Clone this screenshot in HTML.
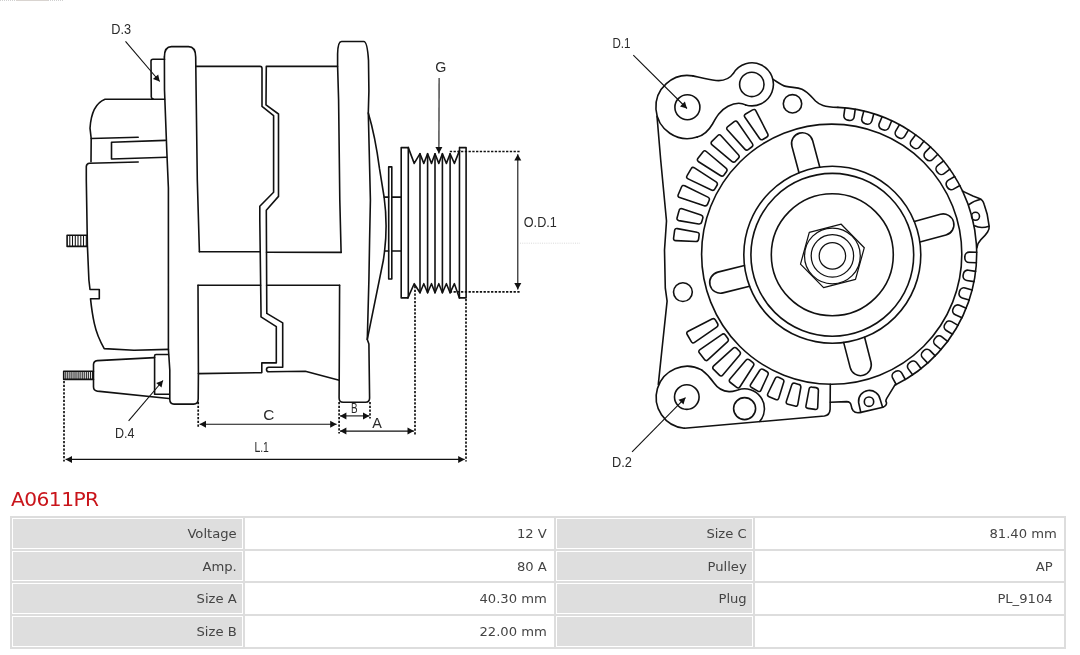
<!DOCTYPE html>
<html lang="en"><head><meta charset="utf-8"><title>A0611PR</title>
<style>
html,body{margin:0;padding:0;background:#fff;}
body{width:1080px;height:655px;position:relative;overflow:hidden;font-family:"DejaVu Sans","Liberation Sans",sans-serif;}
svg{position:absolute;left:0;top:0;}
svg,h1,table{will-change:transform;}
.ln{fill:none;stroke:#111;stroke-width:1.6;stroke-linejoin:round;stroke-linecap:round;}
.thin{fill:none;stroke:#111;stroke-width:1.05;}
.dl{fill:none;stroke:#111;stroke-width:1.1;}
.dot{fill:none;stroke:#111;stroke-width:1.7;stroke-dasharray:2.3 1.45;}
.ah{fill:#111;stroke:none;}
svg text{font-family:"Liberation Sans",sans-serif;font-size:14.3px;fill:#2a2a2a;}
h1{position:absolute;left:11px;top:487px;margin:0;font-size:20.2px;letter-spacing:-0.55px;line-height:24px;font-weight:normal;color:#c9151b;}
table{position:absolute;left:10px;top:516px;width:1056px;border-collapse:separate;border-spacing:0;border:1px solid #ddd;table-layout:fixed;font-size:13.15px;color:#444;}
td{border:1px solid #ddd;height:33px;padding:0 7.2px 0 0;text-align:right;vertical-align:middle;box-sizing:border-box;}
tr:nth-child(2) td{height:32px;}
td.k{padding-right:6.3px;background:#dedede;box-shadow:inset 0 0 0 1px #fff;}
</style></head><body>
<svg width="1080" height="480" viewBox="0 0 1080 480">
<g class="ln">
<path d="M164.6,59.2 L153,59.2 Q151,59.2 151,61.2 L151.3,97 Q151.4,98.6 153,98.9"/>
<path d="M164.4,57 Q164.4,46.6 171.5,46.6 L188.5,46.6 Q195.6,46.6 195.7,57 L196.1,90 L197.3,180 L199.4,251.8"/>
<path d="M164.4,57 L164.5,90 L166.8,151 L168.4,188 L168.4,270 L168.4,349 L169.8,370 L169.8,399.6 Q169.8,404.1 174,404.1 L193.6,404.1 Q198.1,404.1 198.2,399 L198.4,373.6 L198,285.3"/>
<path d="M195.9,66.4 L260,66.4 Q262,66.4 262,68.6 L262,106.4 L273.6,115.6 L273.6,192.3 L259.8,206.3 L259.8,220 L261,311.6 L261,316.8 L276.3,326.7 L276.3,362.9 L261.8,362.9 L261.8,372.6 L198.4,373.6"/>
<path d="M337.5,66.4 L266.3,66.4 L266,104.9 L278.5,114 L278.5,196.4 L266.3,210.2 L266.8,313.4 L282.7,322.9 L282.7,367.2 L268.8,367.2 A2.3,2.3 0 0 0 268.8,371.8 L305.3,371.3 L339.2,380.3"/>
<path d="M199.4,251.8 L260.3,251.8 M266.5,252.2 L341.1,252.4"/>
<path d="M198,285.3 L260.6,285.3 M266.6,285.3 L339.6,285.3"/>
<path d="M341.1,252.4 L339.8,200 L338.6,100 L337.6,66 L337.6,54 Q337.8,41.5 341.5,41.5 L363.8,41.5 Q367.3,41.5 368.5,60.5 L368.9,91 L368.3,113 L369.2,150 L370.4,200 L369.6,240 L368.9,280 L367.3,339.4 L368.9,344 L369.6,398 Q369.6,402.3 365.6,402.3 L343.1,402.3 Q339.1,402.3 339.1,398 L339.2,380.3 L339.6,285.3"/>
<path d="M368.3,113 Q375.2,136 379.5,168.7 L384.1,197 Q387.8,224 384.6,251 L383.4,260 L367.3,339.4"/>
<path d="M384.1,197.1 L388.7,197.1 M391.8,197.1 L401.2,197.1 M384.6,251 L388.7,251 M391.8,251 L401.2,251"/>
<path d="M388.7,166.9 L391.8,166.9 L391.8,279 L388.7,279Z"/>
<path d="M408.3,147.6 L401.2,147.6 L401.2,297.9 L407.9,297.9"/>
<path d="M408.3,147.6 L408.3,297"/>
<path d="M408.3,147.6 L414.2,163.4 L420,153.7 L423.8,163.4 L427.6,153.7 L431.5,163.4 L435,153.7 L438.8,163.4 L442.4,153.7 L446.4,163.4 L450.1,153.7 L454.4,163.4 L459.6,150.4"/>
<path d="M407.9,297.9 L414.2,283.7 L420,292.8 L423.8,283.7 L427.6,292.8 L431.5,283.7 L435,292.8 L438.8,283.7 L442.4,292.8 L446.4,283.7 L450.1,292.8 L454.4,283.7 L459.4,297.9"/>
<path d="M420,153.7 L420,292.8"/>
<path d="M427.6,153.7 L427.6,292.8"/>
<path d="M435,153.7 L435,292.8"/>
<path d="M442.4,153.7 L442.4,292.8"/>
<path d="M450.1,153.7 L450.1,292.8"/>
<path d="M459.6,147.6 L466.1,147.6 L466.1,297.9 L459.4,297.9 M459.5,147.6 L459.4,297.9"/>
<path d="M164.6,99.2 L105,99.2 Q91.5,104.5 90,128.2 L91.2,138.5 L91,161.8"/>
<path d="M91.2,138.5 L138.2,137.3"/>
<path d="M138.2,162 L89.5,163.2 Q86.5,163.4 86.3,166.5 L86.3,180 L87.4,245.6 L88.9,280 L90,289.5 L99.3,289.5 L99.3,298.7 L90.5,298.7 Q92,313 94.3,323.4 Q97,336 104.2,348.6 L134,350.2 L168.4,349.4"/>
<path d="M165.4,140.4 L111.5,142.2 L111.5,159 L166.6,157.2"/>
<path d="M87,235.3 L67.1,235.3 L67.1,246.4 L87.2,246.4"/>
<path d="M154.6,357.6 L97.3,360.6 Q93.5,361 93.5,364.6 L93.5,386.8 Q93.5,390.6 97.3,391.1 L168.8,398.5"/>
<path d="M168.4,354.5 L156,354.5 Q154.6,354.5 154.6,356 L154.6,394.2 L169.2,394.2"/>
<path d="M93.5,371.3 L63.7,371.3 L63.7,379.4 L93.5,379.4"/>
</g>
<path class="thin" d="M69.8,235.3 V246.4M72.5,235.3 V246.4M75.3,235.3 V246.4M78,235.3 V246.4M80.8,235.3 V246.4M83.5,235.3 V246.4M86.3,235.3 V246.4M65.8,371.3 V379.4M67.8,371.3 V379.4M69.9,371.3 V379.4M71.9,371.3 V379.4M74,371.3 V379.4M76,371.3 V379.4M78.1,371.3 V379.4M80.1,371.3 V379.4M82.2,371.3 V379.4M84.2,371.3 V379.4M86.3,371.3 V379.4M88.3,371.3 V379.4M90.4,371.3 V379.4M92.4,371.3 V379.4"/>
<g class="dot">
<path d="M64,381 V461.5"/>
<path d="M198.2,402 V427.5"/>
<path d="M339.1,402 V433.5"/>
<path d="M370,402 V418.5"/>
<path d="M415,286 V435"/>
<path d="M466,299 V461.5"/>
<path d="M449.8,151.5 H520"/>
<path d="M449.8,291.9 H521"/>
</g>
<path d="M520,243.2 H580" stroke="#d9d9d9" stroke-width="1" stroke-dasharray="1 1.2" fill="none"/>
<path d="M0,0.4 H16 M48,0.4 H64" stroke="#c4c4c4" stroke-width="0.9" stroke-dasharray="1 1" fill="none"/>
<path d="M16,0.4 H48" stroke="#cfc9c4" stroke-width="0.9" fill="none"/>
<path class="dl" d="M65.6,459.4 L464.6,459.4"/><path class="ah" d="M464.6,459.4 L458.2,462.9 L458.2,455.9Z"/><path class="ah" d="M65.6,459.4 L72,455.9 L72,462.9Z"/>
<path class="dl" d="M199.6,424.3 L336.6,424.3"/><path class="ah" d="M336.6,424.3 L330.2,427.8 L330.2,420.8Z"/><path class="ah" d="M199.6,424.3 L206,420.8 L206,427.8Z"/>
<path class="dl" d="M340,415.9 L369.4,415.9"/><path class="ah" d="M369.4,415.9 L363,419.4 L363,412.4Z"/><path class="ah" d="M340,415.9 L346.4,412.4 L346.4,419.4Z"/>
<path class="dl" d="M340,431.1 L413.9,431.1"/><path class="ah" d="M413.9,431.1 L407.5,434.6 L407.5,427.6Z"/><path class="ah" d="M340,431.1 L346.4,427.6 L346.4,434.6Z"/>
<path class="dl" d="M517.8,154.2 L517.8,289.4"/><path class="ah" d="M517.8,289.4 L514.3,283 L521.3,283Z"/><path class="ah" d="M517.8,154.2 L521.3,160.6 L514.3,160.6Z"/>
<path class="dl" d="M125.5,41.3 L159.7,81.5"/><path class="ah" d="M159.7,81.5 L152.9,78.9 L158.2,74.4Z"/>
<path class="dl" d="M128.6,420.9 L163,380.5"/><path class="ah" d="M163,380.5 L161.5,387.6 L156.2,383.1Z"/>
<path class="dl" d="M439.1,78.1 L438.9,153.4"/><path class="ah" d="M438.9,153.4 L435.4,147 L442.4,147Z"/>
<path class="dl" d="M633.3,55.1 L687,108.5"/><path class="ah" d="M687,108.5 L680,106.5 L684.9,101.5Z"/>
<path class="dl" d="M632.1,451.9 L685.5,397.6"/><path class="ah" d="M685.5,397.6 L683.5,404.6 L678.5,399.7Z"/>
<circle class="ln" style="stroke-width:1.25" cx="832.4" cy="255.9" r="13.2"/>
<circle class="ln" style="stroke-width:1.25" cx="832.4" cy="255.9" r="21.2"/>
<circle class="ln" style="stroke-width:1.25" cx="832.4" cy="255.9" r="27.9"/>
<circle class="ln" cx="832.3" cy="254.8" r="61"/>
<circle class="ln" cx="832.3" cy="254.8" r="81.4"/>
<circle class="ln" cx="832.3" cy="254.8" r="88.5"/>
<circle class="ln" cx="831.7" cy="254.2" r="130.1"/>
<path class="ln" style="stroke-width:1.25" d="M864.3,247.7L855.5,279.4L823.6,287.6L800.5,264.1L809.3,232.4L841.2,224.2Z"/>
<path class="ln" d="M749.6,286.3 L723,292.9 A10.4 10.4 0 0 1 717.8,272.1 L744.4,265.5"/>
<path class="ln" d="M864.6,337.2 L871,362.3 A10.4 10.4 0 0 1 850.2,367.6 L843.7,342.6"/>
<path class="ln" d="M914.3,221.4 L940.4,214.3 A10.4 10.4 0 0 1 946,235 L919.9,242.1"/>
<path class="ln" d="M799,172.8 L791.9,146.3 A10.4 10.4 0 0 1 812.7,140.7 L819.8,167.2"/>
<circle class="ln" cx="687.4" cy="107.2" r="12.5"/>
<circle class="ln" cx="751.8" cy="84.4" r="12.2"/>
<circle class="ln" cx="792.5" cy="103.8" r="9.2"/>
<circle class="ln" cx="682.9" cy="292.1" r="9.4"/>
<circle class="ln" cx="686.8" cy="397.1" r="12.3"/>
<circle class="ln" cx="744.6" cy="408.6" r="11"/>
<circle class="ln" cx="869" cy="401.7" r="4.7"/>
<circle class="ln" cx="975.5" cy="216.3" r="4"/>
<path class="ln" d="M763.2,139.3Q761,140.5 759.6,138.5L744.9,117.3Q743.5,115.2 745.6,114L752.6,109.9Q754.8,108.7 755.9,110.9L767.7,133.8Q768.8,136 766.6,137.3ZM748.5,149.4Q746.5,151 744.8,149.1L727.5,130Q725.8,128.2 727.8,126.7L734.2,121.7Q736.2,120.2 737.6,122.3L752.2,143.4Q753.7,145.5 751.7,147ZM735.5,161.3Q733.7,163 731.8,161.4L712.1,144.8Q710.2,143.2 711.9,141.4L717.6,135.7Q719.4,133.9 721.1,135.8L738.4,154.8Q740.1,156.7 738.3,158.4ZM724,174.9Q722.4,176.9 720.3,175.5L698.6,161.7Q696.5,160.3 698,158.3L702.9,151.9Q704.4,149.9 706.3,151.5L726,168.1Q727.9,169.7 726.4,171.7ZM714.9,188.9Q713.7,191.1 711.4,190L688.1,178.9Q685.8,177.8 687.1,175.7L691.2,168.7Q692.4,166.5 694.5,167.9L716.1,181.9Q718.2,183.3 716.9,185.5ZM707.6,204.1Q706.6,206.4 704.2,205.7L679.7,197.6Q677.3,196.8 678.3,194.5L681.5,187Q682.5,184.7 684.7,185.8L707.9,197.1Q710.1,198.2 709.1,200.5ZM701.7,222Q701.1,224.4 698.6,224L678.9,220.6Q676.5,220.1 677.1,217.7L679.1,210.5Q679.7,208.1 682.1,208.8L701,214.9Q703.4,215.7 702.8,218.1ZM698.6,239.1Q698.3,241.6 695.8,241.5L675.8,240.6Q673.3,240.5 673.6,238L674.6,230.6Q674.9,228.1 677.4,228.6L697,232.2Q699.5,232.6 699.1,235.1ZM717.5,323.5Q718.7,325.7 716.7,327.1L694.6,342.4Q692.6,343.8 691.3,341.6L687.2,334.5Q686,332.4 688.2,331.2L712,319Q714.2,317.9 715.5,320.1ZM727.7,338.3Q729.2,340.3 727.4,341.9L707.8,359.8Q706,361.5 704.5,359.5L699.5,353.1Q697.9,351.1 700,349.7L721.7,334.6Q723.7,333.1 725.3,335.1ZM739.5,351.2Q741.3,353 739.7,354.9L722.8,374.9Q721.2,376.9 719.4,375.1L713.6,369.4Q711.9,367.6 713.7,365.9L733,348.3Q734.9,346.6 736.7,348.4ZM752.7,362.4Q754.7,363.9 753.3,366L740,386.8Q738.7,388.9 736.7,387.4L730.4,382.5Q728.4,381 730,379.1L745.9,360.3Q747.5,358.4 749.5,359.9ZM766.8,371.5Q769,372.8 767.9,375L761,390.1Q760,392.4 757.8,391.1L751.6,387.5Q749.4,386.3 750.8,384.2L759.8,370.3Q761.2,368.2 763.4,369.5ZM782.2,378.9Q784.5,379.8 783.7,382.2L778.8,398.1Q778,400.5 775.7,399.5L769.1,396.7Q766.8,395.7 767.9,393.5L775.1,378.6Q776.2,376.3 778.5,377.3ZM798.8,384.4Q801.2,385 800.8,387.5L797.8,404.3Q797.4,406.8 795,406.1L788,404.2Q785.6,403.5 786.4,401.2L791.7,385Q792.5,382.6 794.9,383.3ZM816,387.6Q818.5,388 818.4,390.5L817.7,407.2Q817.6,409.7 815.1,409.4L808,408.4Q805.5,408.1 806,405.6L809.1,389.2Q809.6,386.7 812,387.1Z"/>
<path class="ln" d="M844.9,107.9 L843.9,115.2 C843.6,117.6 845.3,119.8 847.7,120.1 L849.3,120.4 C851.7,120.7 853.9,119 854.2,116.6 L855.2,109.4M863.8,111.1 L861.9,118.2 C861.2,120.5 862.6,122.9 864.9,123.6 L866.5,124 C868.8,124.6 871.3,123.2 871.9,120.9 L873.8,113.8M882.1,116.7 L879.3,123.4 C878.3,125.7 879.4,128.3 881.6,129.2 L883.1,129.8 C885.3,130.8 887.9,129.7 888.9,127.5 L891.7,120.7M899.5,124.6 L895.8,130.9 C894.6,133 895.3,135.7 897.4,137 L898.8,137.8 C900.9,139 903.6,138.3 904.8,136.2 L908.5,129.9M915.7,134.8 L911.3,140.5 C909.8,142.5 910.1,145.2 912.1,146.7 L913.3,147.7 C915.2,149.2 918,148.8 919.5,146.9 L924,141.1M930.5,146.9 L925.3,152.1 C923.6,153.8 923.6,156.6 925.3,158.3 L926.4,159.4 C928.1,161.2 930.9,161.2 932.6,159.5 L937.8,154.3M943.6,160.9 L937.8,165.3 C935.8,166.8 935.5,169.6 936.9,171.5 L937.9,172.8 C939.4,174.7 942.1,175.1 944.1,173.6 L949.9,169.2M954.7,176.5 L948.4,180.1 C946.3,181.3 945.5,184 946.7,186.1 L947.5,187.5 C948.7,189.6 951.4,190.4 953.5,189.1 L959.9,185.5M976.7,252.3 L969.4,252.1 C967,252.1 964.9,254 964.9,256.4 L964.8,258 C964.8,260.5 966.7,262.5 969.1,262.5 L976.4,262.7M975.6,271.4 L968.4,270.2 C966,269.8 963.8,271.5 963.4,273.9 L963.1,275.5 C962.8,277.9 964.4,280.1 966.8,280.5 L974,281.6M972.1,290.1 L965.1,288 C962.8,287.3 960.3,288.7 959.6,291 L959.2,292.5 C958.5,294.9 959.8,297.3 962.2,298 L969.2,300.1M966.2,308.2 L959.5,305.3 C957.3,304.3 954.7,305.3 953.7,307.5 L953,309 C952.1,311.2 953.1,313.8 955.3,314.8 L962,317.7M958,325.4 L951.7,321.6 C949.6,320.3 946.9,321 945.7,323.1 L944.8,324.4 C943.6,326.5 944.2,329.2 946.3,330.5 L952.5,334.3M947.6,341.4 L941.9,336.8 C940,335.3 937.2,335.6 935.7,337.5 L934.7,338.7 C933.2,340.6 933.5,343.4 935.3,344.9 L941,349.5M935.2,355.9 L930.1,350.6 C928.4,348.8 925.7,348.8 923.9,350.5 L922.8,351.6 C921,353.3 920.9,356 922.6,357.8 L927.7,363.1M921,368.6 L916.7,362.8 C915.3,360.8 912.5,360.4 910.6,361.8 L909.3,362.8 C907.3,364.2 906.9,367 908.3,368.9 L912.6,374.8M905.3,379.5 L901.8,373.1 C900.6,370.9 898,370.2 895.8,371.3 L894.4,372.1 C892.3,373.3 891.5,375.9 892.7,378.1 L896.2,384.5"/>
<g class="ln">
<path d="M733.4,73.4 A21.5 21.5 0 1 1 745.6,104.9"/>
<path d="M692.9,75.9 A31.6 31.6 0 1 0 697.2,137.1"/>
<path d="M692.9,75.9 C700,77.5 708,79.8 716,80.5 C723.5,81.2 729.6,78.8 733.4,73.4"/>
<path d="M697.2,137.1 C703,135.5 708.5,131 712.5,124 C716.5,116.5 720,110.5 728,106.2 C734,103.2 741,102.6 745.6,104.9"/>
<path d="M772.8,79.1 C777.5,82 781,85.2 786,86.4 C792,87.8 797,87 802,89.2 C808,92 811.5,96.8 815.5,101 C819.5,105 824,106.6 837.9,107.4"/>
<path d="M837.9,107.4 A146.5 146.5 0 0 1 962.6,191.1"/>
<path d="M962.6,191.1 A146.5 146.5 0 0 1 894.7,385.3"/>
<path d="M962.6,191.1 L972.9,196 L979.4,198.4 Q982.8,199.6 984.1,204.2 L987.2,214.3 L989.1,225.8 Q989.6,229.2 987.6,232 Q985,236 980.9,239.6 Q977.6,242.8 976.9,247.8"/>
<path d="M968.9,204.6 Q973.6,200.8 980.9,199.3"/>
<path d="M974.6,225.8 Q981,229 989,226.2"/>
<path d="M894.7,385.3 L886.6,398.6 Q885.2,401 886.5,402.6 Q887,405.4 883,407.2 L860.8,412.4 Q855.6,413.6 853.2,410.8 Q851.6,408.6 851.2,405.6 Q850.6,401.6 846.6,401.6 L830.3,402.3"/>
<path d="M860.8,412.4 L858.6,402.5 A10.9,10.9 0 0 1 880.2,399.6 L882.6,407.3"/>
<path d="M830.3,384.3 L830.1,409.4 Q829.8,415.2 824.4,416 L684.3,428.2"/>
<path d="M684.3,428.2 A31 31 0 1 1 701.6,369.9"/>
<path d="M701.6,369.9 C706.5,373.5 710.5,378 714,383 C718,388.8 723,391.2 729,391.6 C733,391.8 735.5,390.6 737.8,390 A19.8 19.8 0 0 1 759.8,421.3"/>
<path d="M658.3,384.4 L661.9,350 L667.1,301.1 L665.3,288.2 L664.5,250 L666.5,221 L660.7,160 L657,116.2"/>
</g>
<text x="111.3" y="34.2" textLength="19.8" lengthAdjust="spacingAndGlyphs">D.3</text>
<text x="114.9" y="437.8" textLength="19.5" lengthAdjust="spacingAndGlyphs">D.4</text>
<text x="435.3" y="71.6" textLength="11.1" lengthAdjust="spacingAndGlyphs">G</text>
<text x="523.8" y="226.8" textLength="33" lengthAdjust="spacingAndGlyphs">O.D.1</text>
<text x="263.3" y="419.5" textLength="11.1" lengthAdjust="spacingAndGlyphs">C</text>
<text x="351" y="413.1" textLength="6.6" lengthAdjust="spacingAndGlyphs">B</text>
<text x="372.2" y="428.3" textLength="9.6" lengthAdjust="spacingAndGlyphs">A</text>
<text x="254.4" y="451.8" textLength="14.5" lengthAdjust="spacingAndGlyphs">L.1</text>
<text x="612.5" y="47.9" textLength="18" lengthAdjust="spacingAndGlyphs">D.1</text>
<text x="611.9" y="466.9" textLength="19.9" lengthAdjust="spacingAndGlyphs">D.2</text>
</svg>
<h1>A0611PR</h1>
<table>
<colgroup><col style="width:233px"><col style="width:311px"><col style="width:199px"><col style="width:311px"></colgroup>
<tr><td class="k">Voltage</td><td>12 V</td><td class="k">Size C</td><td>81.40 mm</td></tr>
<tr><td class="k">Amp.</td><td>80 A</td><td class="k">Pulley</td><td>AP&nbsp;</td></tr>
<tr><td class="k">Size A</td><td>40.30 mm</td><td class="k">Plug</td><td>PL_9104&nbsp;</td></tr>
<tr><td class="k">Size B</td><td>22.00 mm</td><td class="k"></td><td></td></tr>
</table>
</body></html>
